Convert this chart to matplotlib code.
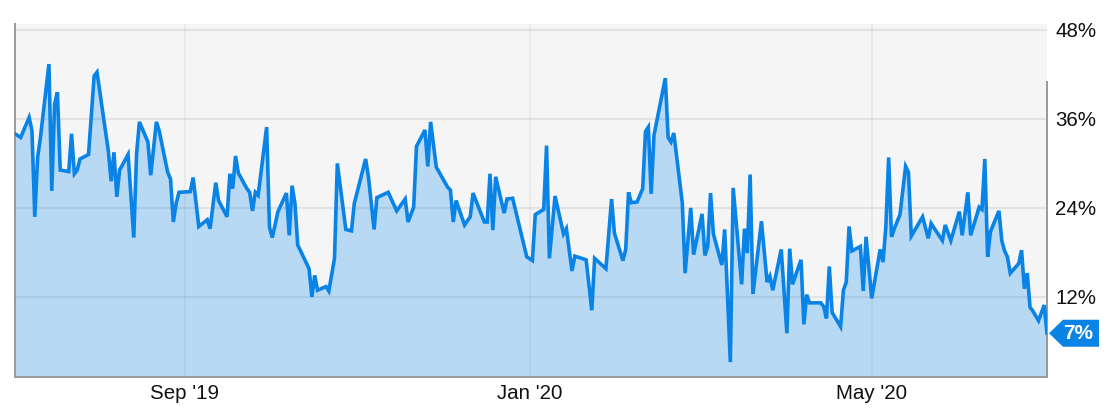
import numpy as np
import pandas as pd
import matplotlib
matplotlib.use("Agg")
import matplotlib.pyplot as plt
import matplotlib.dates as mdates
from matplotlib.patches import Polygon
from matplotlib.ticker import FixedLocator, FuncFormatter

# -----------------------------
# Data (in %)
# -----------------------------
dates = [
    "2019-07-03", "2019-07-05", "2019-07-08", "2019-07-09", "2019-07-10", "2019-07-11",
    "2019-07-12", "2019-07-15", "2019-07-16", "2019-07-17", "2019-07-18", "2019-07-19",
    "2019-07-22", "2019-07-23", "2019-07-24", "2019-07-25", "2019-07-26", "2019-07-29",
    "2019-07-31", "2019-08-01", "2019-08-05", "2019-08-06", "2019-08-07", "2019-08-08",
    "2019-08-09", "2019-08-12", "2019-08-14", "2019-08-15", "2019-08-16", "2019-08-19",
    "2019-08-20", "2019-08-22", "2019-08-23", "2019-08-26", "2019-08-27", "2019-08-28",
    "2019-08-29", "2019-08-30", "2019-09-03", "2019-09-04", "2019-09-06", "2019-09-09",
    "2019-09-10", "2019-09-12", "2019-09-13", "2019-09-16", "2019-09-17", "2019-09-18",
    "2019-09-19", "2019-09-20", "2019-09-23", "2019-09-24", "2019-09-25", "2019-09-26",
    "2019-09-27", "2019-09-30", "2019-10-01", "2019-10-02", "2019-10-04", "2019-10-07",
    "2019-10-08", "2019-10-09", "2019-10-10", "2019-10-11", "2019-10-15", "2019-10-16",
    "2019-10-17", "2019-10-18", "2019-10-21", "2019-10-22", "2019-10-24", "2019-10-25",
    "2019-10-28", "2019-10-30", "2019-10-31", "2019-11-04", "2019-11-05", "2019-11-07",
    "2019-11-08", "2019-11-12", "2019-11-15", "2019-11-18", "2019-11-19", "2019-11-21",
    "2019-11-22", "2019-11-25", "2019-11-26", "2019-11-27", "2019-11-29", "2019-12-03",
    "2019-12-04", "2019-12-05", "2019-12-06", "2019-12-09", "2019-12-11", "2019-12-12",
    "2019-12-16", "2019-12-17", "2019-12-18", "2019-12-19", "2019-12-20", "2019-12-23",
    "2019-12-24", "2019-12-26", "2019-12-31", "2020-01-02", "2020-01-03", "2020-01-06",
    "2020-01-07", "2020-01-08", "2020-01-10", "2020-01-13", "2020-01-14", "2020-01-16",
    "2020-01-17", "2020-01-21", "2020-01-23", "2020-01-24", "2020-01-28", "2020-01-30",
    "2020-01-31", "2020-02-03", "2020-02-04", "2020-02-05", "2020-02-06", "2020-02-08",
    "2020-02-10", "2020-02-11", "2020-02-12", "2020-02-13", "2020-02-14", "2020-02-18",
    "2020-02-19", "2020-02-20", "2020-02-21", "2020-02-24", "2020-02-25", "2020-02-27",
    "2020-02-28", "2020-03-02", "2020-03-03", "2020-03-04", "2020-03-05", "2020-03-06",
    "2020-03-09", "2020-03-10", "2020-03-12", "2020-03-13", "2020-03-16", "2020-03-17",
    "2020-03-18", "2020-03-19", "2020-03-20", "2020-03-23", "2020-03-25", "2020-03-26",
    "2020-03-27", "2020-03-30", "2020-04-01", "2020-04-02", "2020-04-03", "2020-04-06",
    "2020-04-07", "2020-04-08", "2020-04-09", "2020-04-13", "2020-04-14", "2020-04-15",
    "2020-04-16", "2020-04-17", "2020-04-20", "2020-04-21", "2020-04-22", "2020-04-23",
    "2020-04-24", "2020-04-27", "2020-04-28", "2020-04-29", "2020-05-01", "2020-05-04",
    "2020-05-05", "2020-05-06", "2020-05-07", "2020-05-08", "2020-05-09", "2020-05-11",
    "2020-05-13", "2020-05-14", "2020-05-15", "2020-05-19", "2020-05-21", "2020-05-22",
    "2020-05-26", "2020-05-27", "2020-05-29", "2020-06-01", "2020-06-02", "2020-06-04",
    "2020-06-05", "2020-06-08", "2020-06-09", "2020-06-10", "2020-06-11", "2020-06-12",
    "2020-06-15", "2020-06-16", "2020-06-17", "2020-06-18", "2020-06-19", "2020-06-22",
    "2020-06-23", "2020-06-24", "2020-06-25", "2020-06-26", "2020-06-27", "2020-06-29",
    "2020-07-01", "2020-07-02",
]

volatility = [
    34.0, 33.5, 36.2, 34.4, 22.8, 30.8,
    33.5, 43.4, 26.3, 38.0, 39.6, 29.1,
    28.9, 34.0, 28.6, 29.1, 30.6, 31.2,
    41.8, 42.3, 31.7, 27.6, 31.5, 25.5,
    29.1, 31.2, 20.0, 31.3, 35.6, 32.9,
    28.4, 35.6, 34.4, 28.8, 27.9, 22.1,
    24.6, 26.1, 26.2, 28.1, 21.5, 22.4,
    21.2, 27.4, 25.0, 22.8, 28.6, 26.6,
    31.0, 28.7, 26.6, 26.1, 23.6, 26.1,
    25.7, 34.9, 21.4, 20.0, 23.5, 26.0,
    20.3, 27.0, 24.6, 19.0, 15.8, 12.0,
    14.9, 12.9, 13.4, 12.8, 17.2, 30.0,
    21.1, 20.9, 24.6, 30.6, 28.2, 21.1,
    25.4, 26.1, 23.6, 25.2, 22.1, 24.1,
    32.3, 34.5, 29.6, 35.6, 29.5, 26.8,
    26.4, 22.1, 25.0, 21.7, 22.8, 26.0,
    22.1, 22.1, 28.6, 21.0, 28.2, 23.3,
    25.2, 25.3, 17.4, 16.9, 23.1, 23.8,
    32.4, 17.2, 25.6, 20.5, 21.2, 15.5,
    17.5, 17.0, 10.2, 17.2, 15.8, 25.2,
    20.6, 16.9, 18.4, 26.1, 24.7, 24.8,
    26.6, 34.3, 34.9, 25.9, 33.8, 41.5,
    33.5, 32.9, 34.1, 24.7, 15.2, 24.0,
    17.7, 23.2, 17.6, 18.8, 26.0, 20.5,
    16.3, 21.1, 3.2, 26.7, 13.7, 21.2,
    17.9, 28.5, 12.4, 22.2, 14.0, 14.8,
    12.9, 18.4, 7.1, 18.5, 13.7, 17.0,
    8.3, 12.3, 11.2, 11.2, 10.7, 9.1,
    16.1, 9.9, 8.0, 12.9, 14.0, 21.5,
    18.2, 18.8, 12.8, 20.1, 11.8, 18.4,
    16.7, 21.4, 30.8, 20.1, 21.2, 23.1,
    29.6, 28.8, 20.2, 22.8, 19.9, 21.9,
    19.6, 21.7, 19.6, 23.5, 20.3, 26.1,
    20.3, 24.1, 23.8, 30.6, 17.4, 20.8,
    23.6, 19.6, 18.2, 17.4, 15.2, 16.5,
    18.3, 13.1, 15.2, 10.6, 10.1, 8.8,
    10.9, 7.1,
]

y_ticks = [12, 24, 36, 48]
month_ticks = ["2019-09-01", "2020-01-01", "2020-05-01"]

# -----------------------------
# Style
# -----------------------------
LINE = "#0a83e6"
FILL = "#b8d9f3"
BG = "#f5f5f5"
AXIS = "#999999"
W, H = 1112, 416

plt.rcParams["font.family"] = ["Liberation Sans", "DejaVu Sans"]

x = pd.to_datetime(dates)
y = np.array(volatility)

fig = plt.figure(figsize=(W / 100, H / 100), dpi=100)
ax = fig.add_axes([15 / W, 1 - 377 / H, (1047 - 15) / W, (377 - 24) / H])
ax.set_facecolor(BG)

ymin, ymax = 1.2, 48.8
ax.fill_between(x, y, ymin, color=FILL, linewidth=0, zorder=1)
ax.plot(x, y, color=LINE, linewidth=2.6, solid_joinstyle="miter", zorder=3)

ax.set_xlim(x[0], x[-1])
ax.set_ylim(ymin, ymax)

# ticks and grid (grid drawn over the fill, semi transparent)
ax.yaxis.set_major_locator(FixedLocator(y_ticks))
ax.xaxis.set_major_locator(FixedLocator(mdates.date2num(pd.to_datetime(month_ticks))))
ax.xaxis.set_major_formatter(mdates.DateFormatter("%b '%y"))
ax.yaxis.set_major_formatter(FuncFormatter(lambda v, p: f"{v:.0f}%"))
ax.grid(axis="y", color="black", alpha=0.07, linewidth=1.6)
ax.grid(axis="x", color="black", alpha=0.05, linewidth=1.2)
for gl in ax.get_xgridlines() + ax.get_ygridlines():
    gl.set_zorder(2)

ax.yaxis.tick_right()
ax.tick_params(axis="both", length=0, labelsize=14.8, colors="#111111")
ax.tick_params(axis="y", pad=6)
ax.tick_params(axis="x", pad=5)

ax.spines["top"].set_visible(False)
for side in ["left", "bottom", "right"]:
    ax.spines[side].set_color(AXIS)
    ax.spines[side].set_linewidth(1.4)
ax.spines["right"].set_bounds(ymin, 41.0)

# last value flag: pointer tip at the right edge, at the last value
px, py = ax.get_yaxis_transform().transform((1.0, y[-1]))
flag = Polygon([(px + 2, py), (px + 16, py + 13.5), (px + 52, py + 13.5),
                (px + 52, py - 13.5), (px + 16, py - 13.5)],
               closed=True, transform=None, facecolor=LINE, edgecolor="none")
fig.patches.append(flag)
fig.text((px + 31) / W, py / H, f"{y[-1]:.0f}%", ha="center", va="center",
         fontsize=15, fontweight="bold", color="white")

fig.savefig("out.png", dpi=100)
